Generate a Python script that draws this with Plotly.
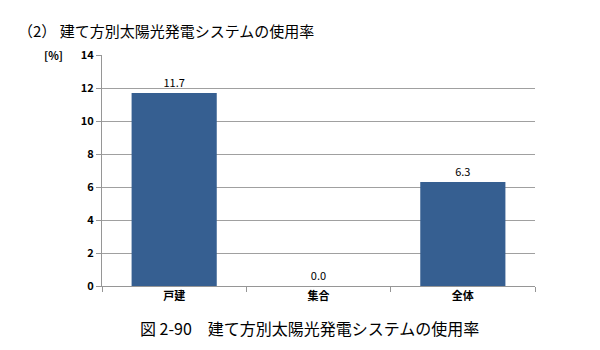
import plotly.graph_objects as go

categories = ["戸建", "集合", "全体"]
values = [11.7, 0.0, 6.3]
value_labels = ["11.7", "0.0", "6.3"]
y_ticks = [0, 2, 4, 6, 8, 10, 12, 14]

font = "Noto Sans CJK JP"
PW, PH = 435, 231

fig = go.Figure()
fig.add_trace(go.Bar(
    x=categories, y=values,
    marker=dict(color="#365F91", line=dict(width=0)),
    width=0.59,
    text=value_labels, textposition="outside",
    textfont=dict(family=font, size=11, color="#000000"),
    cliponaxis=False,
))

fig.update_layout(
    width=600, height=350,
    margin=dict(l=102, r=65, t=55, b=64),
    paper_bgcolor="white", plot_bgcolor="white",
    showlegend=False,
    font=dict(family=font, color="#000000"),
    xaxis=dict(
        showline=True, linecolor="#969696", linewidth=1,
        ticks="outside", tickson="boundaries", ticklen=5, tickcolor="#969696",
        tickfont=dict(family=font, size=11, color="#000000", weight="bold"),
        showgrid=False,
    ),
    yaxis=dict(
        range=[0, 14], tickvals=y_ticks,
        showline=True, linecolor="#969696", linewidth=1,
        ticks="outside", ticklen=5, tickcolor="#969696",
        gridcolor="#A0A0A0", gridwidth=1,
        tickfont=dict(family=font, size=11, color="#000000", weight="bold"),
        zeroline=False,
    ),
)

fig.add_annotation(text="（2） 建て方別太陽光発電システムの使用率", xref="paper", yref="paper",
                   x=-(102 - 16) / PW, y=1 + 25 / PH, xanchor="left", yanchor="middle",
                   showarrow=False, font=dict(family=font, size=15, color="#000000"))
fig.add_annotation(text="[%]", xref="paper", yref="paper",
                   x=-37 / PW, y=1, xanchor="right", yanchor="middle",
                   showarrow=False, font=dict(family=font, size=11, color="#000000", weight="bold"))
fig.add_annotation(text="図 2-90　建て方別太陽光発電システムの使用率", xref="paper", yref="paper",
                   x=(310 - 102) / PW, y=-(328 - 286) / PH, xanchor="center", yanchor="middle",
                   showarrow=False, font=dict(family=font, size=16, color="#000000"))

fig.write_html("out.html")
